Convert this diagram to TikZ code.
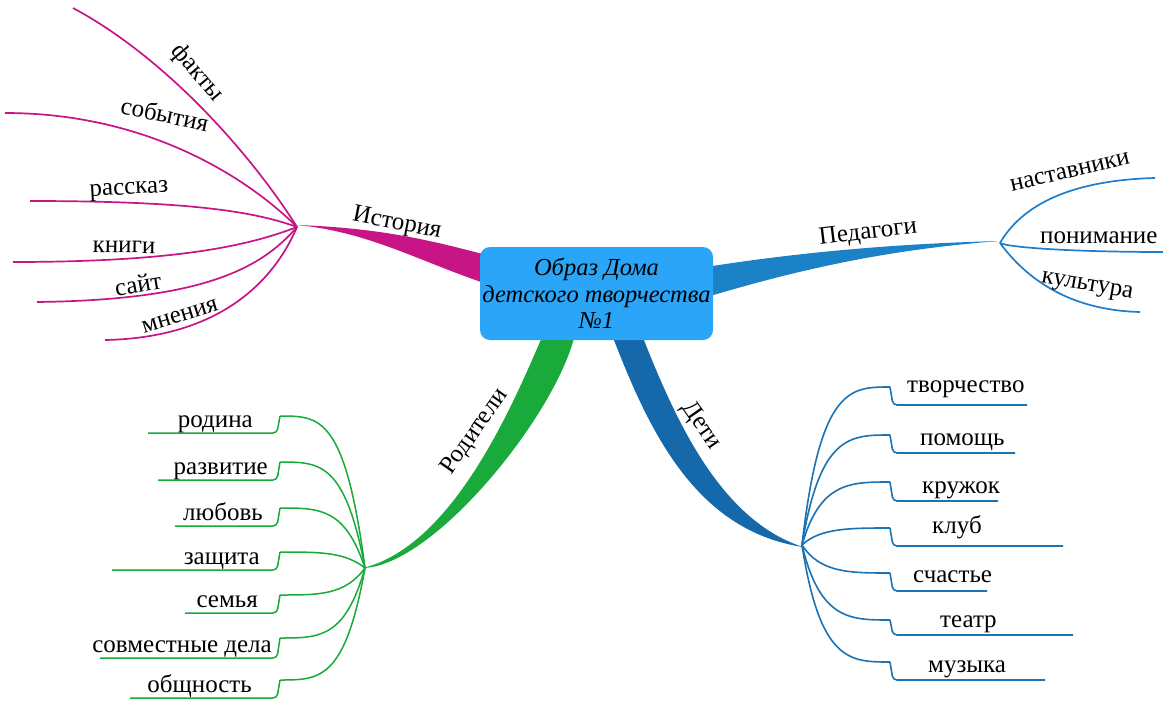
\documentclass[tikz,border=0pt]{standalone}
\usepackage{fontspec}
\setmainfont{Liberation Serif}
\definecolor{magc}{RGB}{199,21,133}
\definecolor{grnc}{RGB}{26,170,60}
\definecolor{pedc}{RGB}{27,130,200}
\definecolor{pedl}{RGB}{30,125,205}
\definecolor{detc}{RGB}{21,105,170}
\definecolor{detl}{RGB}{28,115,180}
\definecolor{boxc}{RGB}{42,165,247}
\begin{document}
\begin{tikzpicture}[x=1pt,y=-1pt,
  lbl/.style={font=\fontsize{25}{27}\selectfont, inner sep=0pt},
  magline/.style={draw=magc, line width=1.7pt},
  grnline/.style={draw=grnc, line width=1.5pt},
  pedline/.style={draw=pedl, line width=1.7pt},
  detline/.style={draw=detl, line width=1.6pt},
  hook/.style={rounded corners=4pt}]
\useasboundingbox (0,0) rectangle (1163,702);
\fill[white] (0,0) rectangle (1163,702);

% hubs
\coordinate (hI) at (297,227);
\coordinate (hP) at (1000,243);
\coordinate (hR) at (365,568);
\coordinate (hD) at (802,545);

% thick branches
\fill[magc] (490,256) .. controls (430,240) and (380,228) .. (297,225)
  .. controls (370,232) and (420,262) .. (490,285) -- cycle;
\fill[pedc] (700,268) .. controls (780,255) and (880,244) .. (1000,241)
  .. controls (880,250) and (790,272) .. (700,299) -- cycle;
\fill[grnc] (545,330) .. controls (515,400) and (455,545) .. (363,568)
  .. controls (435,566) and (560,410) .. (576,330) -- cycle;
\fill[detc] (610,330) .. controls (645,420) and (690,530) .. (803,547)
  .. controls (720,520) and (675,420) .. (640,330) -- cycle;

% center node
\node[fill=boxc, rounded corners=10pt, minimum width=233pt, minimum height=93pt,
  inner sep=0pt, align=center, font=\itshape\fontsize{24.5}{26.5}\selectfont]
  (c) at (596.5,293.5) {Образ Дома\\детского творчества\\№1};

% branch labels
\node[lbl, rotate=-11] (lI) at (397,224) {История};
\node[lbl, rotate=7] (lP) at (868,233) {Педагоги};
\node[lbl, rotate=55] (lR) at (475,432) {Родители};
\node[lbl, rotate=-55] (lD) at (701,426) {Дети};

% История
\coordinate (e1) at (73,8);
\coordinate (e2) at (5,113);
\coordinate (e3) at (30,201);
\coordinate (e4) at (13,262);
\coordinate (e5) at (37,302);
\coordinate (e6) at (105,340);
\draw[magline] (hI) .. controls (255,160) and (170,60) .. (e1);
\draw[magline] (hI) .. controls (250,180) and (150,113) .. (e2);
\draw[magline] (hI) .. controls (250,210) and (180,201) .. (e3);
\draw[magline] (hI) .. controls (250,245) and (180,262) .. (e4);
\draw[magline] (hI) .. controls (260,270) and (200,300) .. (e5);
\draw[magline] (hI) .. controls (270,290) and (210,338) .. (e6);
\node[lbl, rotate=-50] (t1) at (197,73) {факты};
\node[lbl, rotate=-12] (t2) at (165,114) {события};
\node[lbl, rotate=3] (t3) at (129,191) {рассказ};
\node[lbl, rotate=-1] (t4) at (124,247) {книги};
\node[lbl, rotate=10] (t5) at (138,284) {сайт};
\node[lbl, rotate=17] (t6) at (180,316) {мнения};

% Педагоги
\coordinate (p1) at (1155,178);
\coordinate (p2) at (1163,252);
\coordinate (p3) at (1140,312);
\draw[pedline] (hP) .. controls (1025,200) and (1080,180) .. (p1);
\draw[pedline] (hP) .. controls (1010,248) and (1080,252) .. (p2);
\draw[pedline] (hP) .. controls (1020,270) and (1060,310) .. (p3);
\node[lbl, rotate=13] (q1) at (1070,172) {наставники};
\node[lbl, anchor=base west] (q2) at (1040,243) {понимание};
\node[lbl, rotate=-10] (q3) at (1087,287) {культура};

% Родители
\foreach \n/\ya/\yb/\xl/\xt/\txt in {
  r1/416/433/148/253/родина,
  r2/462/480/158/268/развитие,
  r3/508/526/175/263/любовь,
  r4/552/570/112/260/защита,
  r5/595/613/185/258/семья,
  r6/638/658/100/272/совместные дела,
  r7/680/698/130/252/общность}{
  \coordinate (\n a) at (280,\ya);
  \coordinate (\n b) at (\xl,\yb);
  \draw[grnline] (hR) .. controls (345,\ya) and (320,\ya) .. (\n a);
  \draw[grnline, hook] (\n a) -- (277,\yb) -- (\n b);
  \node[lbl, anchor=base east] (\n t) at (\xt,\yb-6) {\txt};
}

% Дети
\foreach \n/\ya/\yb/\xr/\xt/\yt/\txt in {
  d1/387/405/1027/907/392/творчество,
  d2/435/453/1015/920/445/помощь,
  d3/482/501/998/922/493/кружок,
  d4/528/546/1063/932/533/клуб,
  d5/573/591/987/913/582/счастье,
  d6/620/635/1073/940/627/театр,
  d7/662/680/1045/928/672/музыка}{
  \coordinate (\n a) at (890,\ya);
  \coordinate (\n b) at (\xr,\yb);
  \draw[detline] (hD) .. controls (820,\ya) and (850,\ya) .. (\n a);
  \draw[detline, hook] (\n a) -- (893,\yb) -- (\n b);
  \node[lbl, anchor=base west] (\n t) at (\xt,\yt) {\txt};
}
\end{tikzpicture}
\end{document}
